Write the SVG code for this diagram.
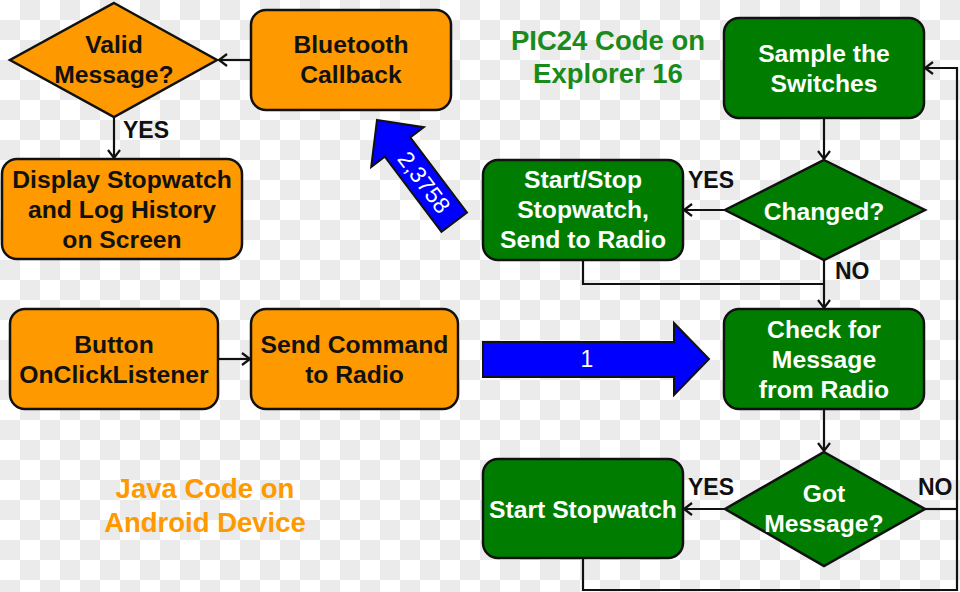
<svg xmlns="http://www.w3.org/2000/svg" width="960" height="592" viewBox="0 0 960 592">
<defs>
<pattern id="checker" x="0" y="0" width="40" height="40" patternUnits="userSpaceOnUse">
<rect width="40" height="40" fill="#ffffff"/>
<rect x="20" y="0" width="20" height="20" fill="#ebebeb"/>
<rect x="0" y="20" width="20" height="20" fill="#ebebeb"/>
</pattern>
<marker id="arr" markerWidth="12" markerHeight="14" refX="10" refY="7" orient="auto" markerUnits="userSpaceOnUse">
<path d="M2,1 L10,7 L2,13" fill="none" stroke="#111" stroke-width="2.2"/>
</marker>
<style>
.orange{fill:#ff9900;stroke:#111;stroke-width:2.5}
.green{fill:#007d00;stroke:#111;stroke-width:2.5}
.blue{fill:#0000ff;stroke:#111;stroke-width:2}
.t{font-family:"Liberation Sans",Arial,sans-serif;font-weight:bold;font-size:24.7px;text-anchor:middle}
.dark{fill:#111}
.light{fill:#ffffff}
.lbl{font-family:"Liberation Sans",Arial,sans-serif;font-weight:bold;font-size:23px;fill:#111}
.title{font-family:"Liberation Sans",Arial,sans-serif;font-weight:bold;font-size:27.5px;text-anchor:middle}
.num{font-family:"Liberation Sans",Arial,sans-serif;font-size:23px;fill:#fff;text-anchor:middle}
.conn{fill:none;stroke:#111;stroke-width:2.2}
</style>
</defs>
<rect width="960" height="592" fill="url(#checker)"/>

<g id="connectors">
<line class="conn" x1="251" y1="60" x2="219" y2="60" marker-end="url(#arr)"/>
<line class="conn" x1="114" y1="117" x2="114" y2="158" marker-end="url(#arr)"/>
<line class="conn" x1="218" y1="359" x2="250" y2="359" marker-end="url(#arr)"/>
<line class="conn" x1="824" y1="118" x2="824" y2="159" marker-end="url(#arr)"/>
<line class="conn" x1="725" y1="210" x2="684" y2="210" marker-end="url(#arr)"/>
<polyline class="conn" points="583,260 583,284 824,284"/>
<line class="conn" x1="824" y1="260" x2="824" y2="308" marker-end="url(#arr)"/>
<line class="conn" x1="824" y1="409" x2="824" y2="451" marker-end="url(#arr)"/>
<line class="conn" x1="725" y1="509" x2="684" y2="509" marker-end="url(#arr)"/>
<polyline class="conn" points="925,509 957,509"/>
<polyline class="conn" points="583,558 583,590 957,590 957,68 925,68" marker-end="url(#arr)"/>
</g>

<g id="valid-message">
<polygon class="orange" points="114,3 217,60 114,117 10,60"/>
<text class="t dark" x="114" y="53">Valid</text>
<text class="t dark" x="114" y="83">Message?</text>
</g>
<g id="bluetooth-callback">
<rect class="orange" x="251" y="10" width="200" height="100" rx="15"/>
<text class="t dark" x="351" y="53">Bluetooth</text>
<text class="t dark" x="351" y="83">Callback</text>
</g>
<g id="display-stopwatch">
<rect class="orange" x="2" y="159" width="240" height="100" rx="15"/>
<text class="t dark" x="122" y="188">Display Stopwatch</text>
<text class="t dark" x="122" y="218">and Log History</text>
<text class="t dark" x="122" y="248">on Screen</text>
</g>
<g id="button-listener">
<rect class="orange" x="10" y="309" width="208" height="100" rx="15"/>
<text class="t dark" x="114" y="353">Button</text>
<text class="t dark" x="114" y="383">OnClickListener</text>
</g>
<g id="send-command">
<rect class="orange" x="251" y="309" width="207" height="100" rx="15"/>
<text class="t dark" x="354.5" y="353">Send Command</text>
<text class="t dark" x="354.5" y="383">to Radio</text>
</g>
<g id="java-title">
<text class="title" x="205" y="498" fill="#ff9900">Java Code on</text>
<text class="title" x="205" y="532" fill="#ff9900">Android Device</text>
</g>
<g id="pic24-title">
<text class="title" x="608" y="50" fill="#1a8a1a">PIC24 Code on</text>
<text class="title" x="608" y="83" fill="#1a8a1a">Explorer 16</text>
</g>

<g id="blue-arrow-up">
<g transform="translate(377,120) rotate(52.9)">
<polygon class="blue" points="0,0 34,-33 34,-16 128,-16 128,16 34,16 34,33"/>
<text class="num" x="78" y="8">2,3758</text>
</g>
</g>
<g id="blue-arrow-right">
<polygon class="blue" points="483,342 674,342 674,323 709,359 674,395 674,377 483,377"/>
<text class="num" x="587" y="367">1</text>
</g>

<g id="sample-switches">
<rect class="green" x="724" y="18" width="200" height="100" rx="15"/>
<text class="t light" x="824" y="62">Sample the</text>
<text class="t light" x="824" y="92">Switches</text>
</g>
<g id="changed">
<polygon class="green" points="824,160 925,210 824,260 725,210"/>
<text class="t light" x="824" y="220">Changed?</text>
</g>
<g id="start-stop">
<rect class="green" x="483" y="160" width="200" height="100" rx="15"/>
<text class="t light" x="583" y="188">Start/Stop</text>
<text class="t light" x="583" y="218">Stopwatch,</text>
<text class="t light" x="583" y="248">Send to Radio</text>
</g>
<g id="check-message">
<rect class="green" x="724" y="309" width="200" height="100" rx="15"/>
<text class="t light" x="824" y="338">Check for</text>
<text class="t light" x="824" y="368">Message</text>
<text class="t light" x="824" y="398">from Radio</text>
</g>
<g id="got-message">
<polygon class="green" points="824,452 925,509 824,566 725,509"/>
<text class="t light" x="824" y="502">Got</text>
<text class="t light" x="824" y="532">Message?</text>
</g>
<g id="start-stopwatch">
<rect class="green" x="483" y="459" width="200" height="99" rx="15"/>
<text class="t light" x="583" y="518">Start Stopwatch</text>
</g>

<g id="labels">
<text class="lbl" x="123" y="138">YES</text>
<text class="lbl" x="688" y="188">YES</text>
<text class="lbl" x="835" y="279">NO</text>
<text class="lbl" x="688" y="495">YES</text>
<text class="lbl" x="918" y="495">NO</text>
</g>
</svg>
